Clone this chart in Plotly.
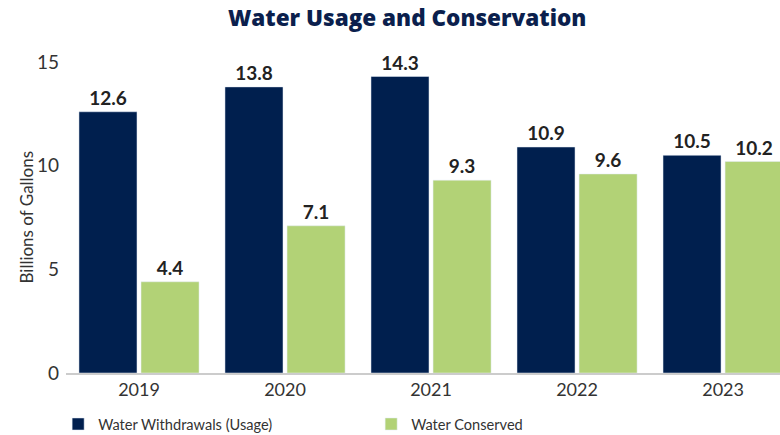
import plotly.graph_objects as go

years = ["2019", "2020", "2021", "2022", "2023"]
withdrawals = [12.6, 13.8, 14.3, 10.9, 10.5]
conserved = [4.4, 7.1, 9.3, 9.6, 10.2]
y_ticks = [0, 5, 10, 15]

NAVY = "#001f4e"
GREEN = "#b2d276"
FONT = "Lato"

fig = go.Figure()
fig.add_trace(go.Bar(
    x=years, y=withdrawals, name="Water Withdrawals (Usage)",
    marker_color=NAVY, text=[f"{v:.1f}" for v in withdrawals],
    textposition="outside", cliponaxis=False,
    textfont=dict(family=FONT, size=19, color="#222222", weight="bold"),
))
fig.add_trace(go.Bar(
    x=years, y=conserved, name="Water Conserved",
    marker_color=GREEN, text=[f"{v:.1f}" for v in conserved],
    textposition="outside", cliponaxis=False,
    textfont=dict(family=FONT, size=19, color="#222222", weight="bold"),
))

fig.update_layout(
    width=780, height=435,
    margin=dict(l=66, r=0, t=62, b=62, autoexpand=False),
    paper_bgcolor="white", plot_bgcolor="white",
    barmode="group", bargap=0.15, bargroupgap=0.065,
    title=dict(text="Water Usage and Conservation", x=0.522, xanchor="center",
               y=0.958, yanchor="middle",
               font=dict(family="Open Sans", size=22.5, color="#0b1f4d", weight=800)),
    font=dict(family=FONT, color="#333333"),
    showlegend=True,
    legend=dict(orientation="h", x=-0.011, xanchor="left", y=-0.164, yanchor="middle",
                font=dict(family=FONT, size=14.6, color="#333333"),
                entrywidth=268, entrywidthmode="pixels", itemwidth=30,
                traceorder="normal"),
    annotations=[dict(text="Billions of Gallons", xref="paper", yref="paper",
                      x=-0.056, y=0.5, xanchor="center", yanchor="middle",
                      textangle=-90, showarrow=False,
                      font=dict(family=FONT, size=17, color="#333333"))],
)
fig.update_xaxes(range=[-0.5, 4.39], showgrid=False, showline=True, linecolor="#cccccc",
                 linewidth=1.5, ticks="", automargin=False,
                 tickfont=dict(family=FONT, size=18, color="#333333"))
fig.update_yaxes(range=[0, 15], tickvals=y_ticks, showgrid=False, zeroline=False,
                 showline=False, ticks="", ticklabelstandoff=6, automargin=False,
                 tickfont=dict(family=FONT, size=19, color="#333333"))

fig.write_html("out.html", config={"displayModeBar": False},
               post_script="document.body.style.margin='0';")
